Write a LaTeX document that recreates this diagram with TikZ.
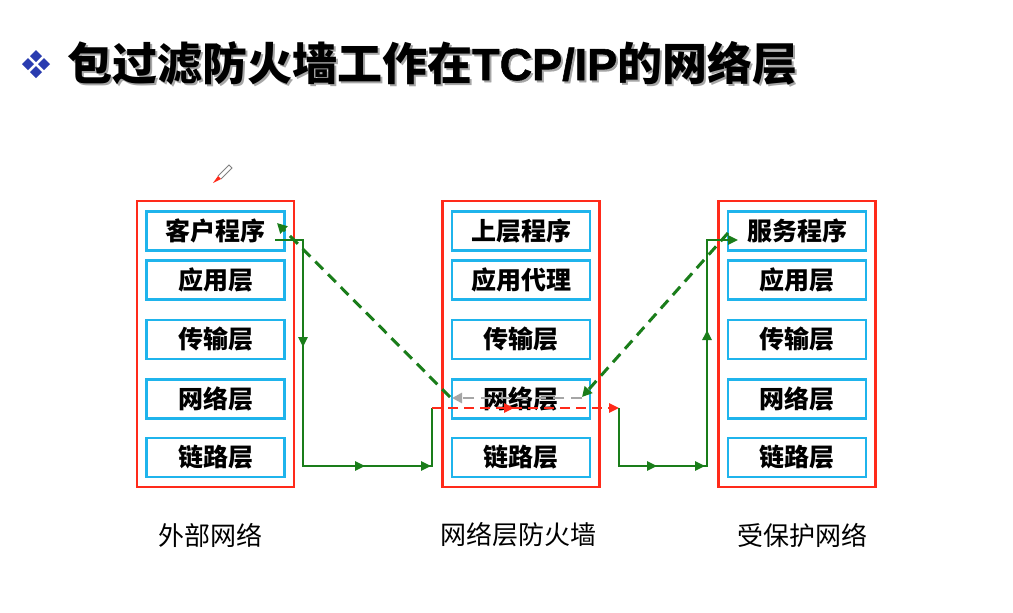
\documentclass[tikz,border=0pt]{standalone}
\usepackage{fontspec}
\newfontfamily\cjk{Noto Sans CJK SC}
\newfontfamily\lat[FakeBold=1.2]{Liberation Sans}
\usetikzlibrary{arrows.meta,decorations.markings}
\definecolor{gr}{HTML}{1A7D1A}
\definecolor{rd}{HTML}{FF2A1A}
\definecolor{cy}{HTML}{1FB4EC}
\definecolor{gy}{HTML}{A6A6A6}
\definecolor{bl}{HTML}{2A3CB0}
\newcommand{\titletext}{包过滤防火墙工作在{\lat\bfseries TCP/IP}的网络层}
\begin{document}
\begin{tikzpicture}[x=1pt,y=-1pt,
  outerbox/.style={draw=rd,line width=2.6pt,minimum width=157pt,minimum height=286pt,inner sep=0pt},
  layerbox/.style={draw=cy,line width=2.6pt,minimum width=138pt,minimum height=39pt,inner sep=0pt,font=\cjk\bfseries\fontsize{25}{25}\selectfont},
  caption/.style={font=\cjk\fontsize{26}{26}\selectfont,inner sep=0pt},
  titlefont/.style={anchor=west,inner sep=0pt,font=\cjk\bfseries\fontsize{45}{45}\selectfont},
  gline/.style={draw=gr,line width=2.4pt},
  gdash/.style={draw=gr,line width=3pt,dash pattern=on 11pt off 7pt,-{Triangle[length=10pt,width=10pt]}},
  marks/.style={postaction={decorate},decoration={markings,#1}}
]
\fill[white] (0,0) rectangle (1013,613);
\useasboundingbox (0,0) rectangle (1013,613);

% title bullet
\foreach \dx/\dy in {0/-8,-8/0,8/0,0/8}{
  \fill[bl] (36+\dx,64+\dy-6) -- (36+\dx+6,64+\dy) -- (36+\dx,64+\dy+6) -- (36+\dx-6,64+\dy) -- cycle;
}
\node[titlefont,text=gray!70] at (69,65) {\titletext};
\node[titlefont] (title) at (67,63) {\titletext};

% pen cursor
\draw[gray,line width=0.8pt] (218,176) -- (229,165) -- (232,168) -- (221,179);
\fill[rd] (213,183) -- (218,176) -- (221,179) -- cycle;

% outer boxes
\node[outerbox] (L) at (215.5,344) {};
\node[outerbox] (M) at (521,344) {};
\node[outerbox] (R) at (797,344) {};

% layers
\node[layerbox] (L1) at (215.5,231) {客户程序};
\node[layerbox] (L2) at (215.5,280) {应用层};
\node[layerbox] (L3) at (215.5,339.5) {传输层};
\node[layerbox] (L4) at (215.5,399) {网络层};
\node[layerbox] (L5) at (215.5,457.5) {链路层};
\node[layerbox] (M1) at (521,231) {上层程序};
\node[layerbox] (M2) at (521,280) {应用代理};
\node[layerbox] (M3) at (521,339.5) {传输层};
\node[layerbox] (M4) at (521,399) {网络层};
\node[layerbox] (M5) at (521,457.5) {链路层};
\node[layerbox] (R1) at (797,231) {服务程序};
\node[layerbox] (R2) at (797,280) {应用层};
\node[layerbox] (R3) at (797,339.5) {传输层};
\node[layerbox] (R4) at (797,399) {网络层};
\node[layerbox] (R5) at (797,457.5) {链路层};

% captions
\node[caption] (cL) at (210,535) {外部网络};
\node[caption] (cM) at (518,535) {网络层防火墙};
\node[caption] (cR) at (802,535) {受保护网络};

% path coordinates
\coordinate (a1) at (275,240);
\coordinate (a2) at (303,240);
\coordinate (a3) at (303,466);
\coordinate (a4) at (432,466);
\coordinate (a5) at (432,408);
\coordinate (b1) at (619,408);
\coordinate (b2) at (619,466);
\coordinate (b3) at (707,466);
\coordinate (b4) at (707,240);
\coordinate (b5) at (738,240);
\coordinate (d1) at (450,397);
\coordinate (d2) at (277,223);
\coordinate (e1) at (728,233);
\coordinate (e2) at (582,397);
\coordinate (g1) at (582,398);
\coordinate (g2) at (452,398);

% green solid path (outgoing)
\draw[gline,marks={mark=at position 135pt with {\arrow{Triangle[length=10pt,width=9pt]}},mark=at position 316pt with {\arrow{Triangle[length=10pt,width=9pt]}},mark=at position 382pt with {\arrow{Triangle[length=10pt,width=9pt]}}}]
  (a1) -- (a2) -- (a3) -- (a4) -- (a5);
% red dashed through firewall
\draw[draw=rd,line width=2.4pt,dash pattern=on 10pt off 6pt,-{Triangle[length=10pt,width=9pt]},marks={mark=at position 82pt with {\arrow{Triangle[length=10pt,width=9pt]}}}]
  (a5) -- (b1);
\draw[gline,-{Triangle[length=10pt,width=9pt]},marks={mark=at position 96pt with {\arrow{Triangle[length=10pt,width=9pt]}},mark=at position 144pt with {\arrow{Triangle[length=10pt,width=9pt]}},mark=at position 282pt with {\arrow{Triangle[length=10pt,width=9pt]}}}]
  (b1) -- (b2) -- (b3) -- (b4) -- (b5);

% return path
\draw[gdash] (e1) -- (e2);
\draw[draw=gy,line width=2.6pt,dash pattern=on 11pt off 7pt,-{Triangle[length=10pt,width=10pt]}] (g1) -- (g2);
\draw[gdash] (d1) -- (d2);
\end{tikzpicture}
\end{document}
